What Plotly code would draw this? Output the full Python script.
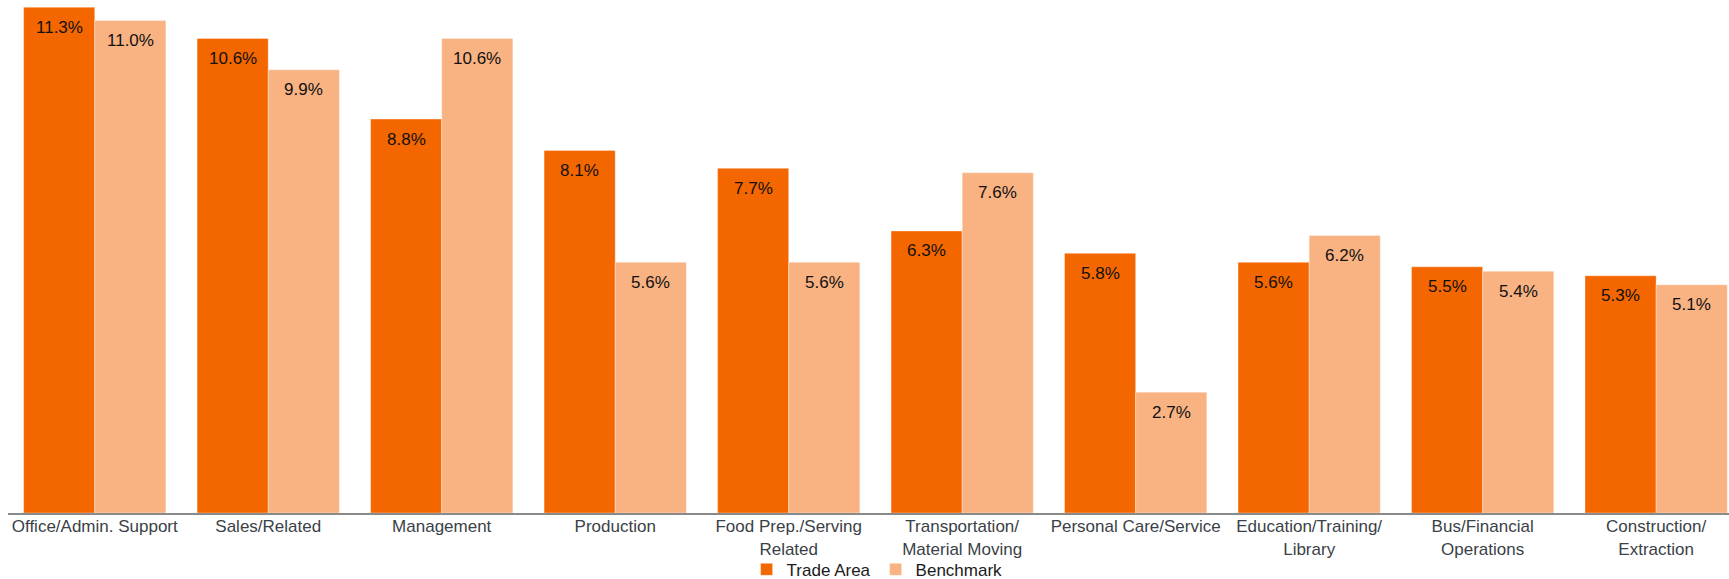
import plotly.graph_objects as go

categories = ["Office/Admin. Support", "Sales/Related", "Management", "Production",
              "Food Prep./Serving<br>Related", "Transportation/<br>Material Moving",
              "Personal Care/Service", "Education/Training/<br>Library",
              "Bus/Financial<br>Operations", "Construction/<br>Extraction"]
trade_area = [11.3, 10.6, 8.8, 8.1, 7.7, 6.3, 5.8, 5.6, 5.5, 5.3]
benchmark = [11.0, 9.9, 10.6, 5.6, 5.6, 7.6, 2.7, 6.2, 5.4, 5.1]

C_TRADE = "#F46600"
C_BENCH = "#F9B282"
FONT = "Liberation Sans, Arial, sans-serif"

xs = list(range(len(categories)))
bargap = 0.18
half = (1 - bargap) / 4  # center offset of each bar in group

fig = go.Figure()
fig.add_trace(go.Bar(x=xs, y=trade_area, name="Trade Area", marker_color=C_TRADE,
                     marker_line=dict(color="rgba(255,255,255,0.35)", width=1)))
fig.add_trace(go.Bar(x=xs, y=benchmark, name="Benchmark", marker_color=C_BENCH,
                     marker_line=dict(color="rgba(255,255,255,0.35)", width=1)))

annotations = []
for vals, off in ((trade_area, -half), (benchmark, half)):
    for i, v in enumerate(vals):
        annotations.append(dict(x=i + off, y=v, xref="x", yref="y", text=f"{v:.1f}%",
                                showarrow=False, yshift=-20,
                                font=dict(family=FONT, size=17, color="#111111")))

fig.update_layout(
    width=1729, height=579,
    margin=dict(l=8, r=0, t=0, b=66, autoexpand=False),
    paper_bgcolor="white", plot_bgcolor="white",
    barmode="group", bargap=bargap, bargroupgap=0,
    font=dict(family=FONT, size=17, color="#3b3f47"),
    annotations=annotations,
    showlegend=True,
    legend=dict(orientation="h", x=0.505, xanchor="center",
                yref="container", y=0.047, yanchor="top",
                bgcolor="rgba(0,0,0,0)",
                font=dict(family=FONT, size=17, color="#1a1a1a"),
                traceorder="normal", itemwidth=30),
    xaxis=dict(tickmode="array", tickvals=xs, ticktext=categories, automargin=False,
               range=[-0.5, 9.42], showline=True, linecolor="#8a8a8a", linewidth=2,
               ticks="", showgrid=False, zeroline=False, ticklabelstandoff=-3,
               tickfont=dict(family=FONT, size=17, color="#3b3f47")),
    yaxis=dict(range=[0, 11.46], visible=False, showgrid=False, zeroline=False,
               automargin=False),
)

fig.write_html("out.html", config={"displayModeBar": False},
               post_script="document.body.style.margin='0';document.body.style.overflow='hidden';")
